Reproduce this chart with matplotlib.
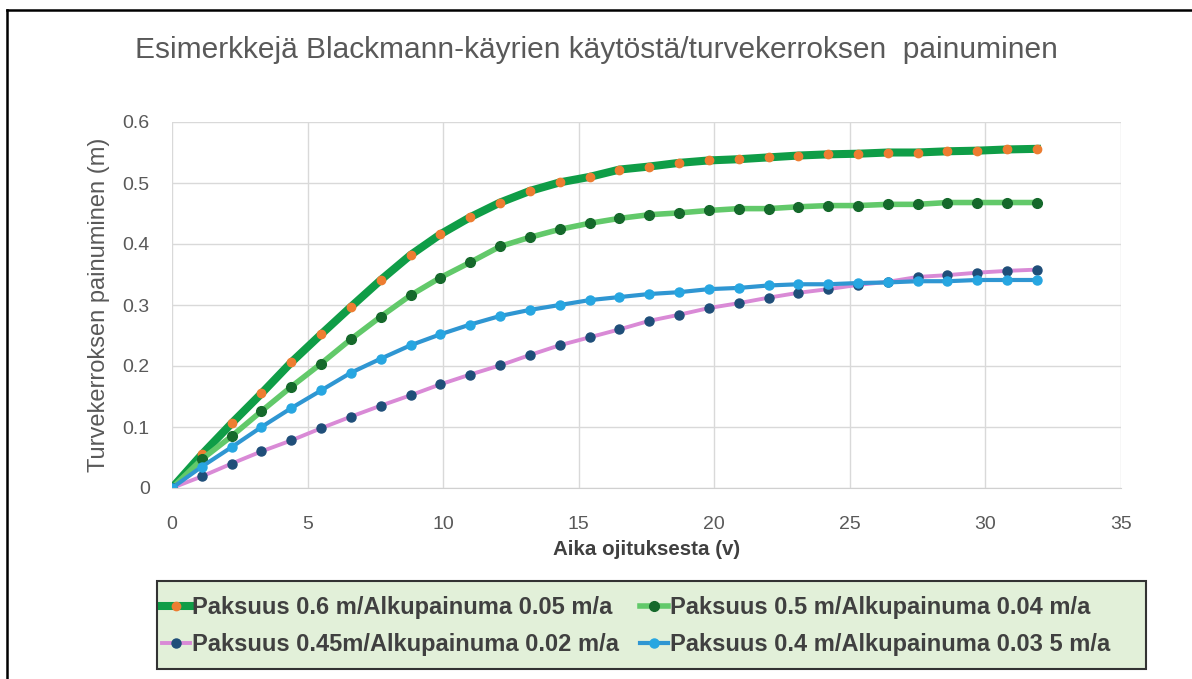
import matplotlib.pyplot as plt
from matplotlib.lines import Line2D
from matplotlib.patches import Rectangle

# aika ojituksesta (v)
aika = [0, 1.1, 2.2, 3.3, 4.4, 5.5, 6.6, 7.7, 8.8, 9.9,
        11.0, 12.1, 13.2, 14.3, 15.4, 16.5, 17.6, 18.7, 19.8, 20.9,
        22.0, 23.1, 24.2, 25.3, 26.4, 27.5, 28.6, 29.7, 30.8, 31.9]

# painuminen (m)
p06 = [0, 0.055, 0.106, 0.155, 0.206, 0.252, 0.297, 0.341, 0.382, 0.416,
       0.444, 0.468, 0.487, 0.501, 0.510, 0.522, 0.527, 0.533, 0.537, 0.539,
       0.542, 0.545, 0.547, 0.548, 0.550, 0.550, 0.552, 0.553, 0.555, 0.556]
p05 = [0, 0.047, 0.085, 0.126, 0.166, 0.204, 0.244, 0.281, 0.316, 0.345,
       0.370, 0.396, 0.411, 0.424, 0.434, 0.442, 0.448, 0.451, 0.455, 0.458,
       0.458, 0.461, 0.463, 0.463, 0.465, 0.465, 0.468, 0.468, 0.468, 0.468]
p045 = [0, 0.019, 0.040, 0.060, 0.078, 0.098, 0.117, 0.135, 0.152, 0.170,
        0.186, 0.201, 0.218, 0.234, 0.247, 0.260, 0.274, 0.284, 0.295, 0.303,
        0.312, 0.320, 0.326, 0.333, 0.338, 0.346, 0.349, 0.353, 0.356, 0.358]
p04 = [0, 0.035, 0.067, 0.100, 0.131, 0.160, 0.189, 0.212, 0.234, 0.252,
       0.268, 0.282, 0.292, 0.300, 0.308, 0.313, 0.318, 0.321, 0.326, 0.328,
       0.332, 0.334, 0.334, 0.336, 0.337, 0.339, 0.339, 0.341, 0.341, 0.341]

nimet = ['Paksuus 0.6 m/Alkupainuma 0.05 m/a',
         'Paksuus 0.5 m/Alkupainuma 0.04 m/a',
         'Paksuus 0.45m/Alkupainuma 0.02 m/a',
         'Paksuus 0.4 m/Alkupainuma 0.03 5 m/a']

x_ticks = [0, 5, 10, 15, 20, 25, 30, 35]
y_ticks = [0, 0.1, 0.2, 0.3, 0.4, 0.5, 0.6]
y_tick_labels = ['0', '0.1', '0.2', '0.3', '0.4', '0.5', '0.6']

plt.rcParams['font.family'] = ['Liberation Sans', 'DejaVu Sans']

W, H = 1192, 679
fig = plt.figure(figsize=(W / 100, H / 100), dpi=100)
ax = fig.add_axes([172 / W, 1 - 488 / H, 949 / W, 366 / H])

# kehys vasemmalla ja ylhäällä
fig.add_artist(Line2D([7 / W, 7 / W], [0, 1 - 10 / H],
                      transform=fig.transFigure, color='black', lw=1.8))
fig.add_artist(Line2D([7 / W, 1], [1 - 10 / H, 1 - 10 / H],
                      transform=fig.transFigure, color='black', lw=1.8))

l1, = ax.plot(aika, p06, color='#0f9d47', lw=5.8, marker='o', ms=6,
              mfc='#ED7D31', mec='#ED7D31')
l2, = ax.plot(aika, p05, color='#62c96a', lw=4, marker='o', ms=7,
              mfc='#15692b', mec='#15692b')
l3, = ax.plot(aika, p045, color='#d98ad6', lw=2.8, marker='o', ms=6.5,
              mfc='#1f4e79', mec='#1f4e79')
l4, = ax.plot(aika, p04, color='#2f96d2', lw=3, marker='o', ms=6.5,
              mfc='#27a6e1', mec='#27a6e1')

ax.set_xlim(0, 35)
ax.set_ylim(0, 0.6)
ax.set_xticks(x_ticks)
ax.set_yticks(y_ticks)
ax.set_yticklabels(y_tick_labels)
ax.grid(True, color='#d9d9d9', lw=1)
ax.set_axisbelow(True)
for s in ['top', 'right', 'left']:
    ax.spines[s].set_visible(False)
ax.spines['bottom'].set_color('#d0d0d0')
ax.tick_params(length=0, labelsize=14, colors='#595959')
ax.tick_params(axis='y', pad=16)
ax.tick_params(axis='x', pad=20)

ax.set_ylabel('Turvekerroksen painuminen (m)', fontsize=17, color='#595959', labelpad=9)
ax.set_xlabel('Aika ojituksesta (v)', fontsize=14.8, fontweight='bold',
              color='#404040', labelpad=5)

fig.text(0.5, 1 - 50 / H, 'Esimerkkejä Blackmann-käyrien käytöstä/turvekerroksen  painuminen',
         ha='center', va='center', fontsize=21.5, color='#595959')

# selitteen laatikko
fig.add_artist(Rectangle((157 / W, 1 - 669 / H), 989 / W, 88 / H,
                         transform=fig.transFigure, facecolor='#e2f0d9',
                         edgecolor='#333333', lw=1.5, zorder=0))

sarakkeet = [([l1, l3], [nimet[0], nimet[2]], 162),
             ([l2, l4], [nimet[1], nimet[3]], 640)]
for kahvat, tekstit, x_px in sarakkeet:
    leg = fig.legend(kahvat, tekstit, loc='center left',
                     bbox_to_anchor=(x_px / W, 1 - 626 / H),
                     frameon=False, borderpad=0, borderaxespad=0,
                     handlelength=1.2, handletextpad=0.06, labelspacing=0.6,
                     prop={'size': 17, 'weight': 'bold'})
    for t in leg.get_texts():
        t.set_color('#404040')

fig.savefig('out.png', dpi=100)
